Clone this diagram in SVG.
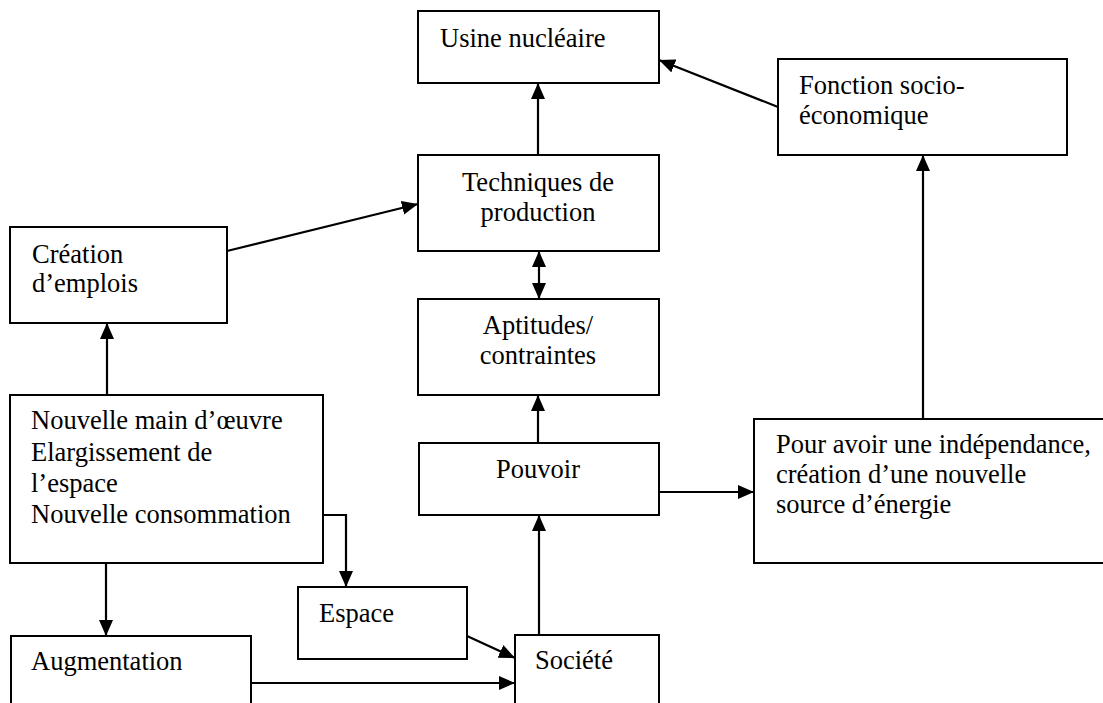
<svg xmlns="http://www.w3.org/2000/svg" width="1103" height="703" viewBox="0 0 1103 703">
<style>
.box{fill:#fff;stroke:#000;stroke-width:2}
.t{font-family:"Liberation Serif","Times New Roman",serif;font-size:26.5px;fill:#000}
.c{text-anchor:middle}
.ln{fill:none;stroke:#000;stroke-width:2.2}
</style>
<defs>
<marker id="ah" markerWidth="16" markerHeight="14" refX="16" refY="7" orient="auto-start-reverse" markerUnits="userSpaceOnUse" viewBox="0 0 16 14">
<path d="M0,0 L16,7 L0,14 Z" fill="#000"/>
</marker>
</defs>
<rect width="1103" height="703" fill="#fff"/>
<g id="connectors">
<path class="ln" d="M538,155 L538,83" marker-end="url(#ah)"/>
<path class="ln" d="M778,107 L659,60" marker-end="url(#ah)"/>
<path class="ln" d="M227,251 L418,204" marker-end="url(#ah)"/>
<path class="ln" d="M539,251 L539,299" marker-start="url(#ah)" marker-end="url(#ah)"/>
<path class="ln" d="M538,443 L538,395" marker-end="url(#ah)"/>
<path class="ln" d="M539,635 L539,515" marker-end="url(#ah)"/>
<path class="ln" d="M659,492 L754,492" marker-end="url(#ah)"/>
<path class="ln" d="M923,419 L923,155" marker-end="url(#ah)"/>
<path class="ln" d="M107,395 L107,323" marker-end="url(#ah)"/>
<path class="ln" d="M323,515 L346,515 L346,587" marker-end="url(#ah)"/>
<path class="ln" d="M106,563 L106,636" marker-end="url(#ah)"/>
<path class="ln" d="M467,636 L515,658" marker-end="url(#ah)"/>
<path class="ln" d="M251,683 L515,683" marker-end="url(#ah)"/>
</g>
<g id="usine">
<rect class="box" x="418" y="11" width="241" height="72"/>
<text class="t" x="440" y="47">Usine nucléaire</text>
</g>
<g id="fonction">
<rect class="box" x="778" y="59" width="289" height="96"/>
<text class="t" x="799" y="94">Fonction socio-</text>
<text class="t" x="799" y="124">économique</text>
</g>
<g id="techniques">
<rect class="box" x="418" y="155" width="241" height="96"/>
<text class="t c" x="538" y="191">Techniques de</text>
<text class="t c" x="538" y="221">production</text>
</g>
<g id="creation">
<rect class="box" x="10" y="227" width="217" height="96"/>
<text class="t" x="32" y="263">Création</text>
<text class="t" x="32" y="292">d’emplois</text>
</g>
<g id="aptitudes">
<rect class="box" x="418" y="299" width="241" height="96"/>
<text class="t c" x="538" y="334">Aptitudes/</text>
<text class="t c" x="538" y="364">contraintes</text>
</g>
<g id="nouvelle">
<rect class="box" x="10" y="395" width="313" height="168"/>
<text class="t" x="31" y="429">Nouvelle main d’œuvre</text>
<text class="t" x="31" y="461">Elargissement de</text>
<text class="t" x="31" y="492">l’espace</text>
<text class="t" x="31" y="523">Nouvelle consommation</text>
</g>
<g id="pouvoir">
<rect class="box" x="419" y="443" width="240" height="72"/>
<text class="t c" x="538" y="478">Pouvoir</text>
</g>
<g id="independance">
<rect class="box" x="754" y="419" width="360" height="144"/>
<text class="t" x="776" y="453">Pour avoir une indépendance,</text>
<text class="t" x="776" y="483">création d’une nouvelle</text>
<text class="t" x="776" y="513">source d’énergie</text>
</g>
<g id="espace">
<rect class="box" x="298" y="587" width="169" height="72"/>
<text class="t" x="319" y="622">Espace</text>
</g>
<g id="augmentation">
<rect class="box" x="11" y="636" width="240" height="80"/>
<text class="t" x="31" y="670">Augmentation</text>
</g>
<g id="societe">
<rect class="box" x="515" y="635" width="144" height="80"/>
<text class="t" x="535" y="669">Société</text>
</g>
</svg>
